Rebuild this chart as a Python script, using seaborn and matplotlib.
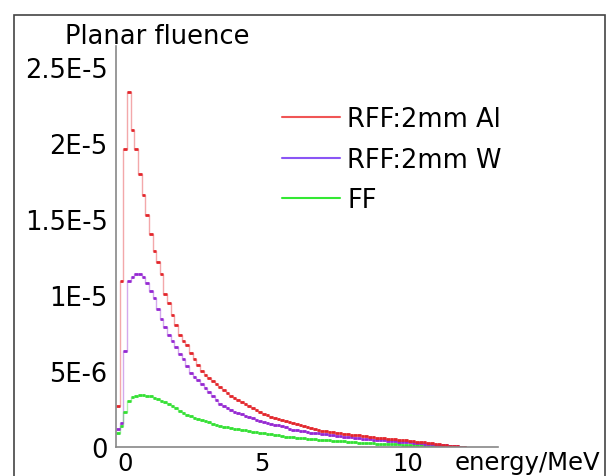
import numpy as np
import pandas as pd
import matplotlib
matplotlib.use("Agg")
import matplotlib.pyplot as plt
import seaborn as sns
from matplotlib.lines import Line2D
from matplotlib.patches import Rectangle
from matplotlib.transforms import ScaledTranslation

sns.set_style("white")
plt.rcParams['font.family'] = ['DejaVu Sans']
plt.rcParams['text.color'] = 'black'

# histogram bins: 0.125 MeV wide, starting at 0 MeV
bin_width = 0.125

# planar fluence per bin, in units of 1E-6
red_al = [2.7, 10.9, 19.6, 23.4, 20.9, 19.6, 18.0, 16.6, 15.3, 14.0, 12.9, 12.2,
          11.4, 10.1, 9.5, 8.7, 8.0, 7.4, 7.0, 6.7, 6.2, 5.8, 5.4, 5.0,
          4.75, 4.55, 4.35, 4.15, 3.95, 3.75, 3.55, 3.35, 3.2, 3.08, 2.95, 2.8,
          2.68, 2.55, 2.42, 2.3, 2.2, 2.1, 2.0, 1.93, 1.87, 1.8, 1.72, 1.65,
          1.6, 1.54, 1.48, 1.38, 1.3, 1.24, 1.18, 1.13, 1.08, 1.04, 1.0, 0.97,
          0.94, 0.9, 0.87, 0.85, 0.82, 0.79, 0.76, 0.73, 0.70, 0.67, 0.64, 0.61,
          0.58, 0.56, 0.54, 0.52, 0.5, 0.48, 0.46, 0.44, 0.42, 0.39, 0.36, 0.33,
          0.30, 0.27, 0.24, 0.21, 0.18, 0.15, 0.12, 0.09, 0.06, 0.04, 0.02, 0.0]
purple_w = [1.2, 1.6, 6.3, 10.9, 11.2, 11.4, 11.4, 11.2, 10.8, 10.3, 9.8, 9.1,
            8.4, 7.9, 7.4, 7.0, 6.6, 6.1, 5.8, 5.35, 4.9, 4.6, 4.4, 4.15,
            3.9, 3.6, 3.35, 3.1, 2.85, 2.7, 2.55, 2.42, 2.32, 2.25, 2.2, 2.06,
            1.96, 1.88, 1.8, 1.73, 1.66, 1.6, 1.54, 1.48, 1.43, 1.39, 1.3, 1.2,
            1.15, 1.11, 1.07, 1.03, 0.99, 0.95, 0.92, 0.89, 0.86, 0.83, 0.8, 0.78,
            0.75, 0.72, 0.69, 0.66, 0.63, 0.6, 0.57, 0.55, 0.53, 0.51, 0.49, 0.47,
            0.45, 0.43, 0.41, 0.39, 0.37, 0.35, 0.33, 0.32, 0.3, 0.28, 0.26, 0.24,
            0.22, 0.2, 0.18, 0.16, 0.14, 0.12, 0.1, 0.08, 0.06, 0.04, 0.02, 0.0]
green_ff = [0.9, 1.4, 2.3, 3.05, 3.3, 3.35, 3.4, 3.4, 3.38, 3.33, 3.25, 3.15,
            3.05, 2.95, 2.82, 2.7, 2.55, 2.38, 2.25, 2.12, 2.02, 1.94, 1.87, 1.8,
            1.72, 1.63, 1.52, 1.42, 1.38, 1.33, 1.29, 1.25, 1.21, 1.17, 1.13, 1.09,
            1.05, 1.01, 0.98, 0.95, 0.92, 0.88, 0.84, 0.8, 0.76, 0.72, 0.68, 0.65,
            0.63, 0.61, 0.59, 0.57, 0.55, 0.53, 0.51, 0.49, 0.47, 0.45, 0.43, 0.42,
            0.41, 0.39, 0.37, 0.35, 0.33, 0.31, 0.29, 0.27, 0.26, 0.25, 0.24, 0.23,
            0.22, 0.21, 0.2, 0.19, 0.18, 0.17, 0.16, 0.15, 0.13, 0.12, 0.11, 0.1,
            0.09, 0.08, 0.07, 0.06, 0.05, 0.04, 0.03, 0.02, 0.01, 0.01, 0.0, 0.0]

series_names = ['RFF:2mm Al', 'RFF:2mm W', 'FF']
line_colors = {'RFF:2mm Al': '#e3262b', 'RFF:2mm W': '#9528d2', 'FF': '#34e034'}
legend_colors = ['#f05555', '#8a55f5', '#33e833']

y_ticks = [0, 5e-6, 1e-5, 1.5e-5, 2e-5, 2.5e-5]
y_tick_labels = ['0', '5E-6', '1E-5', '1.5E-5', '2E-5', '2.5E-5']
x_ticks = [0, 5, 10]
x_tick_labels = ['0', '5', '10']

centers = bin_width / 2 + bin_width * np.arange(len(red_al))
frames = []
for name, vals in zip(series_names, [red_al, purple_w, green_ff]):
    frames.append(pd.DataFrame({'energy': centers, 'fluence': np.array(vals) * 1e-6, 'beam': name}))
df = pd.concat(frames, ignore_index=True)

fs = 18.5
fs_x = 17.5
fig = plt.figure(figsize=(6.06, 4.77), dpi=100)
ax = fig.add_axes([116 / 606, 29 / 477, 382 / 606, 401 / 477])

# light step outline, like the ROOT histogram
sns.lineplot(data=df, x='energy', y='fluence', hue='beam', palette=line_colors,
             drawstyle='steps-mid', alpha=0.4, lw=1.0, legend=False, ax=ax)
# bin bars (horizontal error bars)
for name in series_names[::-1]:
    sub = df[df['beam'] == name]
    ax.hlines(sub['fluence'], sub['energy'] - bin_width / 2, sub['energy'] + bin_width / 2,
              colors=line_colors[name], lw=2.0)

ax.set_xlim(0, 13.08)
ax.set_ylim(0, 2.64e-5)
ax.set_xlabel('')
ax.set_ylabel('')
ax.set_yticks(y_ticks)
ax.set_yticklabels(y_tick_labels)
ax.set_yticks([2.5e-6, 7.5e-6, 1.25e-5, 1.75e-5, 2.25e-5], minor=True)
ax.set_xticks(x_ticks)
ax.set_xticklabels(x_tick_labels)
ax.set_xticks([2.5, 7.5, 12.5], minor=True)
ax.tick_params(axis='both', which='major', direction='in', length=12, width=1,
               color='#555555', labelcolor='black')
ax.tick_params(axis='y', labelsize=fs, pad=6)
ax.tick_params(axis='x', labelsize=fs_x, pad=3)
ax.tick_params(axis='both', which='minor', direction='in', length=6, width=1, color='#555555')
for s in ['top', 'right']:
    ax.spines[s].set_visible(False)
for s in ['left', 'bottom']:
    ax.spines[s].set_color('#888888')
    ax.spines[s].set_linewidth(1.2)

# the "0" label sits a little right of the axis, as in the ROOT canvas
first = ax.get_xticklabels()[0]
first.set_transform(first.get_transform() + ScaledTranslation(9 / 100, 0, fig.dpi_scale_trans))

handles = [Line2D([0], [0], color=c, lw=1.5) for c in legend_colors]
leg = fig.legend(handles, series_names, loc='upper left', bbox_to_anchor=(272 / 606, 1 - 97 / 477),
                 frameon=False, fontsize=fs, handlelength=2.26, handletextpad=0.27,
                 labelspacing=0.56, borderaxespad=0)
for t in leg.get_texts():
    t.set_color('black')

fig.text(65 / 606, 1 - 37 / 477, 'Planar fluence', fontsize=fs, ha='left', va='center', color='black')
fig.text(600 / 606, 1 - 463 / 477, 'energy/MeV', fontsize=fs_x, ha='right', va='center', color='black')

# outer frame of the original canvas
fig.patches.append(Rectangle((14 / 606, -0.1), 591 / 606, 1.1 - 16 / 477, transform=fig.transFigure,
                             fill=False, edgecolor='#444444', lw=1.2))

fig.savefig('out.png', dpi=100)
